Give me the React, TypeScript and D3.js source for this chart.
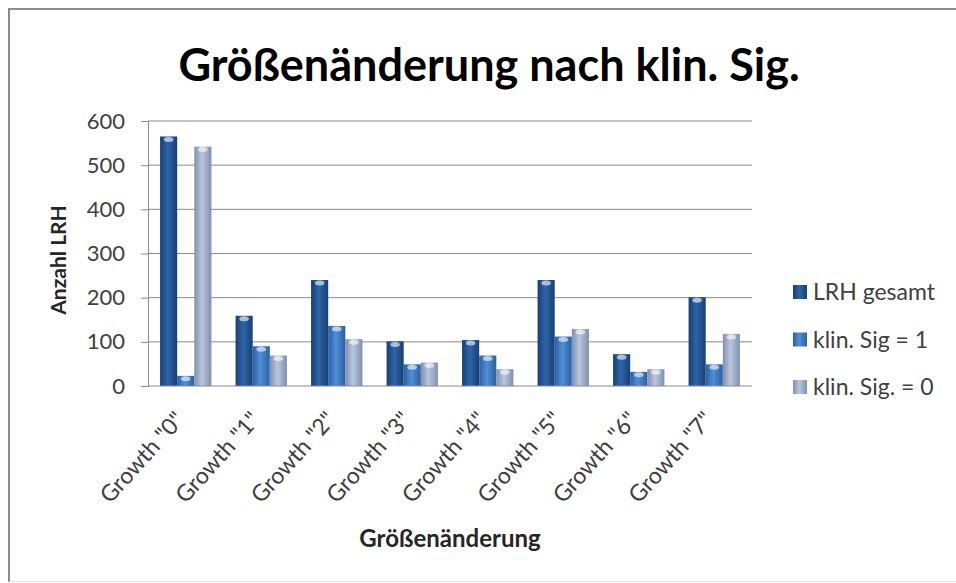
import React, { useEffect, useRef } from 'react';
import * as d3 from 'd3';

const categories = ['Growth "0"', 'Growth "1"', 'Growth "2"', 'Growth "3"', 'Growth "4"', 'Growth "5"', 'Growth "6"', 'Growth "7"'];
const seriesNames = ['LRH gesamt', 'klin. Sig = 1', 'klin. Sig. = 0'];
const lrhGesamt = [565, 159, 240, 101, 104, 240, 72, 201];
const klinSig1 = [23, 90, 136, 49, 69, 112, 32, 49];
const klinSig0 = [542, 69, 106, 53, 38, 129, 38, 118];
const yTicks = [0, 100, 200, 300, 400, 500, 600];

const FONT = 'Lato, "Open Sans", sans-serif';

const App: React.FC = () => {
  const svgRef = useRef<SVGSVGElement>(null);

  useEffect(() => {
    if (!svgRef.current) return;
    const svg = d3.select(svgRef.current);
    svg.selectAll('*').remove();

    const width = 956;
    const height = 583;
    const plot = { left: 148, right: 752, top: 121, bottom: 386 };
    const values = [lrhGesamt, klinSig1, klinSig0];

    // Colors per series: [edge, center]
    const colors = [
      ['#173f73', '#2f65a8'],
      ['#2b5fa3', '#4f8fd6'],
      ['#7f8fae', '#b9c6dc'],
    ];

    const defs = svg.append('defs');
    colors.forEach((c, i) => {
      const grad = defs.append('linearGradient')
        .attr('id', `bar-grad-${i}`)
        .attr('x1', '0%').attr('x2', '100%')
        .attr('y1', '0%').attr('y2', '0%');
      grad.append('stop').attr('offset', '0%').attr('stop-color', c[0]);
      grad.append('stop').attr('offset', '45%').attr('stop-color', c[1]);
      grad.append('stop').attr('offset', '100%').attr('stop-color', c[0]);
    });

    svg.attr('width', width).attr('height', height);

    svg.append('rect')
      .attr('x', 0).attr('y', 0)
      .attr('width', width).attr('height', height)
      .attr('fill', '#ffffff');

    // Chart border (only top/left clearly visible, bottom faint)
    svg.append('path')
      .attr('d', 'M9,582 L9,9 L956,9')
      .attr('fill', 'none')
      .attr('stroke', '#8c8c8c')
      .attr('stroke-width', 2);
    svg.append('line')
      .attr('x1', 9).attr('x2', 956)
      .attr('y1', 581.5).attr('y2', 581.5)
      .attr('stroke', '#e4e4e4')
      .attr('stroke-width', 1);

    const x = d3.scaleBand<string>()
      .domain(categories)
      .range([plot.left, plot.right])
      .paddingInner(0.32)
      .paddingOuter(0.16);

    const xInner = d3.scaleBand<string>()
      .domain(seriesNames)
      .range([0, x.bandwidth()]);

    const y = d3.scaleLinear()
      .domain([0, 600])
      .range([plot.bottom, plot.top]);

    // Gridlines
    svg.append('g')
      .selectAll('line')
      .data(yTicks.filter(t => t > 0))
      .join('line')
      .attr('x1', plot.left)
      .attr('x2', plot.right)
      .attr('y1', d => y(d))
      .attr('y2', d => y(d))
      .attr('stroke', '#8a8a8a')
      .attr('stroke-width', 1);

    // Y axis
    const yAxis = svg.append('g')
      .attr('transform', `translate(${plot.left},0)`)
      .call(d3.axisLeft(y).tickValues(yTicks).tickSize(7).tickPadding(16));
    yAxis.select('.domain').attr('stroke', '#8a8a8a');
    yAxis.selectAll('.tick line').attr('stroke', '#8a8a8a');
    yAxis.selectAll('.tick text')
      .attr('font-family', FONT)
      .attr('font-size', 22)
      .attr('fill', '#404040');

    // Bars
    values.forEach((vals, si) => {
      const g = svg.append('g');
      g.selectAll('rect')
        .data(vals)
        .join('rect')
        .attr('x', (_, i) => (x(categories[i]) ?? 0) + (xInner(seriesNames[si]) ?? 0))
        .attr('y', d => y(d))
        .attr('width', xInner.bandwidth())
        .attr('height', d => plot.bottom - y(d))
        .attr('fill', `url(#bar-grad-${si})`);
      // small highlight at the top of each bar
      g.selectAll('ellipse')
        .data(vals)
        .join('ellipse')
        .attr('cx', (_, i) => (x(categories[i]) ?? 0) + (xInner(seriesNames[si]) ?? 0) + xInner.bandwidth() / 2)
        .attr('cy', d => y(d) + 3)
        .attr('rx', xInner.bandwidth() * 0.28)
        .attr('ry', 2.5)
        .attr('fill', '#ffffff')
        .attr('opacity', 0.6);
    });

    // X axis baseline
    svg.append('line')
      .attr('x1', plot.left)
      .attr('x2', plot.right)
      .attr('y1', plot.bottom)
      .attr('y2', plot.bottom)
      .attr('stroke', '#8a8a8a');

    // X tick labels
    svg.append('g')
      .selectAll('text')
      .data(categories)
      .join('text')
      .attr('transform', d => `translate(${(x(d) ?? 0) + x.bandwidth() / 2 - 12},${plot.bottom + 24}) rotate(-48)`)
      .attr('text-anchor', 'end')
      .attr('dy', '0.7em')
      .attr('font-family', FONT)
      .attr('font-size', 23)
      .attr('fill', '#404040')
      .text(d => d);

    // Title
    svg.append('text')
      .attr('x', 489)
      .attr('y', 81)
      .attr('text-anchor', 'middle')
      .attr('font-family', FONT)
      .attr('font-weight', 'bold')
      .attr('font-size', 45)
      .attr('fill', '#000000')
      .text('Größenänderung nach klin. Sig.');

    // Axis titles
    svg.append('text')
      .attr('x', 450)
      .attr('y', 547)
      .attr('text-anchor', 'middle')
      .attr('font-family', FONT)
      .attr('font-weight', 'bold')
      .attr('font-size', 24)
      .attr('fill', '#262626')
      .text('Größenänderung');

    svg.append('text')
      .attr('transform', 'translate(66,260) rotate(-90)')
      .attr('text-anchor', 'middle')
      .attr('font-family', FONT)
      .attr('font-weight', 'bold')
      .attr('font-size', 21)
      .attr('fill', '#262626')
      .text('Anzahl LRH');

    // Legend
    const legend = svg.append('g');
    seriesNames.forEach((name, i) => {
      const cy = 292 + i * 47.5;
      legend.append('rect')
        .attr('x', 793)
        .attr('y', cy - 7)
        .attr('width', 14)
        .attr('height', 14)
        .attr('fill', `url(#bar-grad-${i})`);
      legend.append('text')
        .attr('x', 813)
        .attr('y', cy)
        .attr('dy', '0.36em')
        .attr('font-family', FONT)
        .attr('font-size', 23)
        .attr('fill', '#404040')
        .text(name);
    });
  }, []);

  return (
    <div style={{ position: 'absolute', left: 0, top: 0 }}>
      <svg ref={svgRef} width={956} height={583} style={{ display: 'block' }} />
    </div>
  );
};

export default App;
